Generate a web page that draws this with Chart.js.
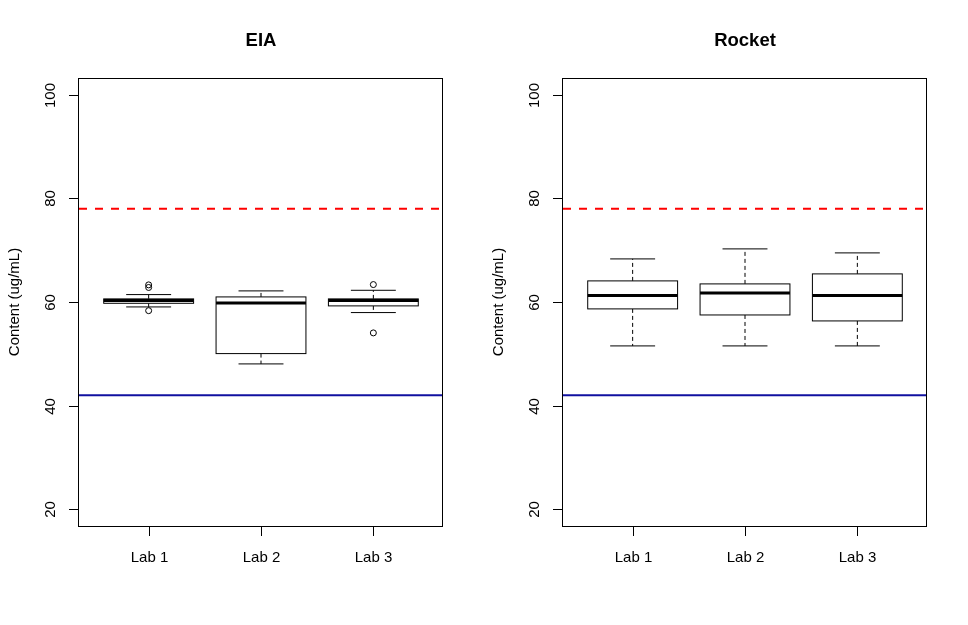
<!DOCTYPE html>
<html lang="en">
<head>
    <meta charset="UTF-8">
    <title>EIA vs Rocket content</title>
    <script src="https://cdn.jsdelivr.net/npm/chart.js"></script>
    <style>
        body {
            margin: 0;
            background: #fff;
        }
        .wrap {
            position: relative;
            width: 968px;
            height: 625px;
        }
        .panel {
            position: absolute;
            top: 0;
            width: 484px;
            height: 625px;
        }
    </style>
</head>
<body>
    <div class="wrap">
        <div class="panel" style="left:0"><canvas id="eiaChart" width="484" height="625"></canvas></div>
        <div class="panel" style="left:484px"><canvas id="rocketChart" width="484" height="625"></canvas></div>
    </div>

    <script>
        // categories and axis ticks
        const categories = ['Lab 1', 'Lab 2', 'Lab 3'];
        const yTicks = [20, 40, 60, 80, 100];
        const yLabel = 'Content (ug/mL)';

        // limits drawn as reference lines
        const upperLimit = 78;
        const lowerLimit = 42;

        // EIA boxplot stats (whisker low, Q1, median, Q3, whisker high)
        const eiaLow = [59.05, 48.06, 57.96];
        const eiaQ1 = [59.75, 50.05, 59.25];
        const eiaMedian = [60.27, 59.8, 60.27];
        const eiaQ3 = [60.6, 60.98, 60.6];
        const eiaHigh = [61.43, 62.14, 62.26];
        const eiaOutliers = [[63.3, 62.8, 58.33], [], [63.36, 54.04]];

        // Rocket boxplot stats
        const rocketLow = [51.53, 51.53, 51.53];
        const rocketQ1 = [58.67, 57.5, 56.35];
        const rocketMedian = [61.23, 61.75, 61.23];
        const rocketQ3 = [64.07, 63.49, 65.42];
        const rocketHigh = [68.31, 70.24, 69.47];
        const rocketOutliers = [[], [], []];

        const FONT = "'Liberation Sans', Arial, sans-serif";

        // draws the boxes, limit lines, axes and texts with the chart's scales
        const boxPlotPlugin = {
            id: 'boxPlot',
            afterDatasetsDraw(chart, args, opts) {
                const ctx = chart.ctx;
                const xs = chart.scales.x;
                const ys = chart.scales.y;
                const area = chart.chartArea;
                const st = opts.stats;

                ctx.save();
                ctx.strokeStyle = '#000';

                for (let i = 0; i < categories.length; i++) {
                    const xc = xs.getPixelForValue(i + 1);
                    const halfBox = xs.getPixelForValue(i + 1.4) - xc;
                    const halfCap = xs.getPixelForValue(i + 1.2) - xc;
                    const yLo = ys.getPixelForValue(st.low[i]);
                    const yQ1 = ys.getPixelForValue(st.q1[i]);
                    const yMed = ys.getPixelForValue(st.median[i]);
                    const yQ3 = ys.getPixelForValue(st.q3[i]);
                    const yHi = ys.getPixelForValue(st.high[i]);

                    // whiskers
                    ctx.lineWidth = 1;
                    ctx.setLineDash([4, 3]);
                    ctx.beginPath();
                    ctx.moveTo(xc, yQ3);
                    ctx.lineTo(xc, yHi);
                    ctx.moveTo(xc, yQ1);
                    ctx.lineTo(xc, yLo);
                    ctx.stroke();
                    ctx.setLineDash([]);

                    // caps
                    ctx.beginPath();
                    ctx.moveTo(xc - halfCap, yHi);
                    ctx.lineTo(xc + halfCap, yHi);
                    ctx.moveTo(xc - halfCap, yLo);
                    ctx.lineTo(xc + halfCap, yLo);
                    ctx.stroke();

                    // box
                    ctx.fillStyle = '#fff';
                    ctx.fillRect(xc - halfBox, yQ3, halfBox * 2, yQ1 - yQ3);
                    ctx.strokeRect(xc - halfBox, yQ3, halfBox * 2, yQ1 - yQ3);

                    // median
                    ctx.lineWidth = 3;
                    ctx.beginPath();
                    ctx.moveTo(xc - halfBox, yMed);
                    ctx.lineTo(xc + halfBox, yMed);
                    ctx.stroke();
                }

                // limit lines
                ctx.lineWidth = 2;
                ctx.strokeStyle = '#ff0000';
                ctx.setLineDash([8, 8]);
                ctx.beginPath();
                ctx.moveTo(area.left, ys.getPixelForValue(upperLimit));
                ctx.lineTo(area.right, ys.getPixelForValue(upperLimit));
                ctx.stroke();
                ctx.setLineDash([]);
                ctx.strokeStyle = '#1010a0';
                ctx.beginPath();
                ctx.moveTo(area.left, ys.getPixelForValue(lowerLimit));
                ctx.lineTo(area.right, ys.getPixelForValue(lowerLimit));
                ctx.stroke();

                // frame
                ctx.lineWidth = 1;
                ctx.strokeStyle = '#000';
                ctx.strokeRect(Math.round(area.left) - 0.5, Math.round(area.top) + 0.5,
                    Math.round(area.right - area.left), Math.round(area.bottom - area.top));

                // y ticks + labels
                ctx.fillStyle = '#000';
                ctx.font = '15px ' + FONT;
                ctx.textAlign = 'center';
                ctx.textBaseline = 'middle';
                yTicks.forEach(v => {
                    const y = Math.round(ys.getPixelForValue(v)) + 0.5;
                    ctx.beginPath();
                    ctx.moveTo(area.left - 10, y);
                    ctx.lineTo(area.left, y);
                    ctx.stroke();
                    ctx.save();
                    ctx.translate(area.left - 28, y);
                    ctx.rotate(-Math.PI / 2);
                    ctx.fillText(String(v), 0, 0);
                    ctx.restore();
                });

                // x ticks + labels
                categories.forEach((c, i) => {
                    const x = Math.round(xs.getPixelForValue(i + 1)) + 0.5;
                    ctx.beginPath();
                    ctx.moveTo(x, area.bottom);
                    ctx.lineTo(x, area.bottom + 10);
                    ctx.stroke();
                    ctx.fillText(c, x, area.bottom + 32);
                });

                // axis title
                ctx.save();
                ctx.translate(15, (area.top + area.bottom) / 2);
                ctx.rotate(-Math.PI / 2);
                ctx.fillText(yLabel, 0, 0);
                ctx.restore();

                // main title
                ctx.font = 'bold 18.5px ' + FONT;
                ctx.fillText(opts.title, (area.left + area.right) / 2, 41);

                ctx.restore();
            }
        };

        function outlierPoints(outliers) {
            const pts = [];
            outliers.forEach((vals, i) => vals.forEach(v => pts.push({ x: i + 1, y: v })));
            return pts;
        }

        function drawPanel(id, title, stats) {
            const ctx = document.getElementById(id).getContext('2d');
            new Chart(ctx, {
                type: 'scatter',
                data: {
                    datasets: [{
                        data: outlierPoints(stats.outliers),
                        pointRadius: 3,
                        pointBorderWidth: 1,
                        borderColor: '#000',
                        backgroundColor: 'rgba(0,0,0,0)'
                    }]
                },
                options: {
                    responsive: false,
                    animation: false,
                    devicePixelRatio: 1,
                    layout: { padding: { left: 79, right: 41, top: 78, bottom: 99 } },
                    plugins: {
                        legend: { display: false },
                        tooltip: { enabled: false },
                        boxPlot: { title: title, stats: stats }
                    },
                    scales: {
                        x: { type: 'linear', min: 0.38, max: 3.62, display: false },
                        y: { type: 'linear', min: 16.8, max: 103.2, display: false }
                    }
                },
                plugins: [boxPlotPlugin]
            });
        }

        drawPanel('eiaChart', 'EIA', {
            low: eiaLow, q1: eiaQ1, median: eiaMedian, q3: eiaQ3, high: eiaHigh, outliers: eiaOutliers
        });
        drawPanel('rocketChart', 'Rocket', {
            low: rocketLow, q1: rocketQ1, median: rocketMedian, q3: rocketQ3, high: rocketHigh, outliers: rocketOutliers
        });
    </script>
</body>
</html>
